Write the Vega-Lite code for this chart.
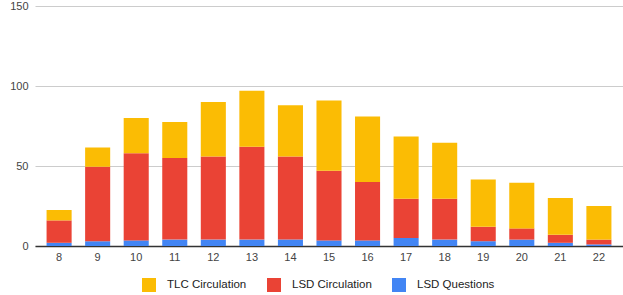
{
  "$schema": "https://vega.github.io/schema/vega-lite/v6.json",
  "autosize": "none",
  "width": 588,
  "height": 240,
  "padding": {"left": 35, "top": 6, "right": 0, "bottom": 49},
  "background": "white",
  "config": {
    "view": {"stroke": null},
    "font": "Liberation Sans"
  },
  "data": {
    "values": [
      {"x": "8", "series": "LSD Questions", "value": 2},
      {"x": "8", "series": "LSD Circulation", "value": 14},
      {"x": "8", "series": "TLC Circulation", "value": 6.5},
      {"x": "9", "series": "LSD Questions", "value": 3},
      {"x": "9", "series": "LSD Circulation", "value": 46.5},
      {"x": "9", "series": "TLC Circulation", "value": 12},
      {"x": "10", "series": "LSD Questions", "value": 3.5},
      {"x": "10", "series": "LSD Circulation", "value": 54.5},
      {"x": "10", "series": "TLC Circulation", "value": 22},
      {"x": "11", "series": "LSD Questions", "value": 4},
      {"x": "11", "series": "LSD Circulation", "value": 51},
      {"x": "11", "series": "TLC Circulation", "value": 22.5},
      {"x": "12", "series": "LSD Questions", "value": 4},
      {"x": "12", "series": "LSD Circulation", "value": 52},
      {"x": "12", "series": "TLC Circulation", "value": 34},
      {"x": "13", "series": "LSD Questions", "value": 4},
      {"x": "13", "series": "LSD Circulation", "value": 58},
      {"x": "13", "series": "TLC Circulation", "value": 35},
      {"x": "14", "series": "LSD Questions", "value": 4},
      {"x": "14", "series": "LSD Circulation", "value": 52},
      {"x": "14", "series": "TLC Circulation", "value": 32},
      {"x": "15", "series": "LSD Questions", "value": 3.5},
      {"x": "15", "series": "LSD Circulation", "value": 43.5},
      {"x": "15", "series": "TLC Circulation", "value": 44},
      {"x": "16", "series": "LSD Questions", "value": 3.5},
      {"x": "16", "series": "LSD Circulation", "value": 36.5},
      {"x": "16", "series": "TLC Circulation", "value": 41},
      {"x": "17", "series": "LSD Questions", "value": 5},
      {"x": "17", "series": "LSD Circulation", "value": 24.5},
      {"x": "17", "series": "TLC Circulation", "value": 39},
      {"x": "18", "series": "LSD Questions", "value": 4},
      {"x": "18", "series": "LSD Circulation", "value": 25.5},
      {"x": "18", "series": "TLC Circulation", "value": 35},
      {"x": "19", "series": "LSD Questions", "value": 3},
      {"x": "19", "series": "LSD Circulation", "value": 9},
      {"x": "19", "series": "TLC Circulation", "value": 29.5},
      {"x": "20", "series": "LSD Questions", "value": 4},
      {"x": "20", "series": "LSD Circulation", "value": 7},
      {"x": "20", "series": "TLC Circulation", "value": 28.5},
      {"x": "21", "series": "LSD Questions", "value": 2},
      {"x": "21", "series": "LSD Circulation", "value": 5},
      {"x": "21", "series": "TLC Circulation", "value": 23},
      {"x": "22", "series": "LSD Questions", "value": 1},
      {"x": "22", "series": "LSD Circulation", "value": 3},
      {"x": "22", "series": "TLC Circulation", "value": 21}
    ]
  },
  "transform": [
    {"calculate": "indexof(['LSD Questions','LSD Circulation','TLC Circulation'], datum.series)", "as": "stackOrder"}
  ],
  "mark": {"type": "bar"},
  "encoding": {
    "x": {
      "field": "x",
      "type": "ordinal",
      "sort": null,
      "title": null,
      "scale": {"paddingInner": 0.35, "paddingOuter": 0.3},
      "axis": {
        "labelAngle": 0,
        "labelFontSize": 11,
        "labelColor": "#444444",
        "labelPadding": 5,
        "ticks": false,
        "domain": true,
        "domainColor": "#333333",
        "domainWidth": 1.5
      }
    },
    "y": {
      "field": "value",
      "type": "quantitative",
      "aggregate": "sum",
      "stack": "zero",
      "title": null,
      "scale": {"domain": [0, 150], "nice": false},
      "axis": {
        "values": [0, 50, 100, 150],
        "labelFontSize": 11,
        "labelColor": "#444444",
        "labelPadding": 7,
        "ticks": false,
        "domain": false,
        "gridColor": "#cccccc",
        "gridWidth": 1
      }
    },
    "color": {
      "field": "series",
      "type": "nominal",
      "scale": {
        "domain": ["TLC Circulation", "LSD Circulation", "LSD Questions"],
        "range": ["#FBBC04", "#EA4335", "#4285F4"]
      },
      "legend": {
        "title": null,
        "orient": "none",
        "direction": "horizontal",
        "legendX": 107,
        "legendY": 272,
        "symbolType": "square",
        "symbolSize": 196,
        "symbolStrokeWidth": 0,
        "symbolOpacity": 1,
        "labelFontSize": 11.5,
        "labelColor": "#222222",
        "labelOffset": 11,
        "columnPadding": 20
      }
    },
    "order": {"field": "stackOrder", "type": "quantitative", "sort": "ascending"}
  }
}
